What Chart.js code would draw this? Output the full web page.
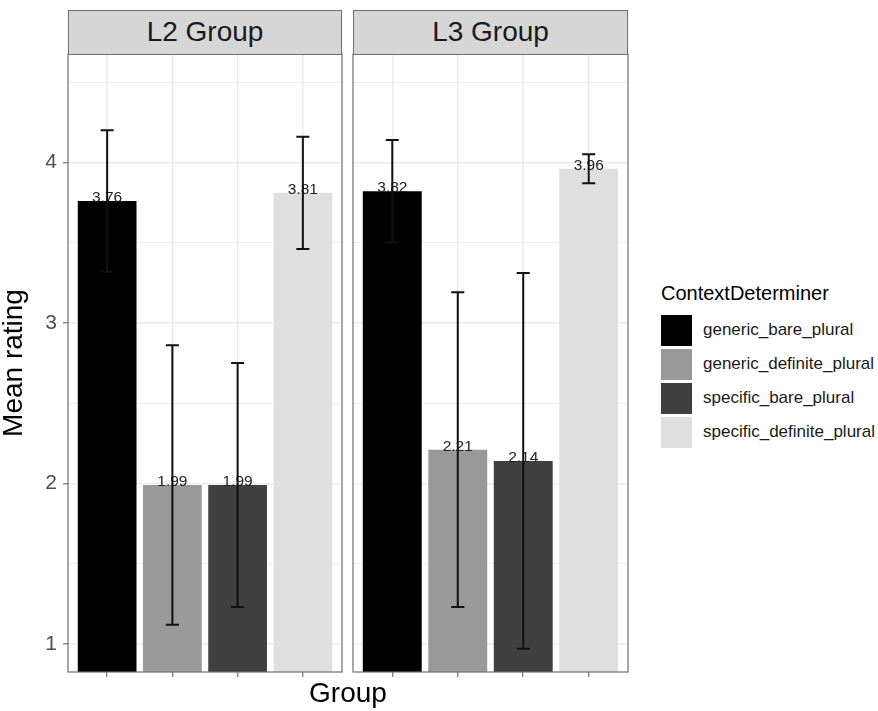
<!DOCTYPE html>
<html>
<head>
<meta charset="utf-8">
<script src="https://cdn.jsdelivr.net/npm/chart.js@4.4.1/dist/chart.umd.min.js"></script>
<style>
  body { margin: 0; background: #fff; }
  #wrap { position: relative; width: 878px; height: 711px; background: #fff; font-family: "Liberation Sans", Arial, Helvetica, sans-serif; }
  canvas { position: absolute; top: 0; }
  .strip { position: absolute; box-sizing: border-box; border: 1px solid #707070; background: #d6d6d6;
           color: #1a1a1a; font-size: 28px; line-height: 42px; text-align: center; }
  .axis-title { position: absolute; color: #000; font-size: 28px; line-height: 28px; text-align: center; white-space: nowrap; }
  #legend { position: absolute; left: 661px; top: 283px; }
  #legend .title { font-size: 20px; line-height: 20px; color: #000; margin-bottom: 10px; }
  #legend .item { display: flex; align-items: center; height: 34px; }
  #legend .key { width: 31px; height: 31px; margin-right: 11px; }
  #legend .label { font-size: 17px; color: #1a1a1a; }
</style>
</head>
<body>
<div id="wrap">
  <canvas id="panelL2" width="348" height="711" style="left:0"></canvas>
  <canvas id="panelL3" width="290" height="711" style="left:348px"></canvas>
  <div id="legend"></div>
</div>
<script>
// facet panels and bar categories
const panels = ['L2 Group', 'L3 Group'];
const determiners = ['generic_bare_plural', 'generic_definite_plural', 'specific_bare_plural', 'specific_definite_plural'];

// mean ratings per panel
const meanL2 = [3.76, 1.99, 1.99, 3.81];
const meanL3 = [3.82, 2.21, 2.14, 3.96];

// half-widths of the error bars
const errL2 = [0.44, 0.87, 0.76, 0.35];
const errL3 = [0.32, 0.98, 1.17, 0.09];

// y axis
const yMajor = [1, 2, 3, 4];
const yMinor = [1.5, 2.5, 3.5, 4.5];
const yLimits = [0.825, 4.675];

const fills = ['#000000', '#999999', '#404040', '#dfdfdf'];
const FONT = '"Liberation Sans", Arial, Helvetica, sans-serif';
const GRID = '#ebebeb';
const LINE = '#707070';

// value labels, error bars and the panel border
const panelExtras = {
  id: 'panelExtras',
  afterDatasetsDraw(chart, args, opts) {
    const { ctx, chartArea: area, scales: { x, y } } = chart;
    const bars = chart.getDatasetMeta(0).data;
    ctx.save();
    ctx.fillStyle = '#222';
    ctx.font = '15.5px ' + FONT;
    ctx.textAlign = 'center';
    ctx.textBaseline = 'alphabetic';
    bars.forEach((bar, i) => {
      ctx.fillText(opts.means[i].toFixed(2), bar.x, bar.y + 1);
    });

    const capHalf = x.getPixelForValue(1.1) - x.getPixelForValue(1);
    ctx.strokeStyle = '#111';
    ctx.lineWidth = 2;
    bars.forEach((bar, i) => {
      const top = y.getPixelForValue(opts.means[i] + opts.errs[i]);
      const bot = y.getPixelForValue(opts.means[i] - opts.errs[i]);
      ctx.beginPath();
      ctx.moveTo(bar.x, top); ctx.lineTo(bar.x, bot);
      ctx.moveTo(bar.x - capHalf, top); ctx.lineTo(bar.x + capHalf, top);
      ctx.moveTo(bar.x - capHalf, bot); ctx.lineTo(bar.x + capHalf, bot);
      ctx.stroke();
    });

    ctx.strokeStyle = LINE;
    ctx.lineWidth = 1.2;
    ctx.strokeRect(area.left, area.top, area.right - area.left, area.bottom - area.top);
    ctx.restore();
  }
};

function makePanel(canvasId, means, errs, showY, padding) {
  const yTicks = yMajor.concat(yMinor).sort((a, b) => a - b);
  return new Chart(document.getElementById(canvasId), {
    type: 'bar',
    data: {
      datasets: [{
        data: means.map((v, i) => ({ x: i + 1, y: v })),
        backgroundColor: fills,
        borderWidth: 0,
        categoryPercentage: 0.9,
        barPercentage: 1
      }]
    },
    options: {
      responsive: false,
      animation: false,
      layout: { padding: padding },
      plugins: {
        legend: { display: false },
        tooltip: { enabled: false },
        panelExtras: { means: means, errs: errs }
      },
      scales: {
        x: {
          type: 'linear',
          min: 0.4,
          max: 4.6,
          offset: false,
          afterBuildTicks: s => { s.ticks = determiners.map((d, i) => ({ value: i + 1 })); },
          afterFit: s => { s.height = 39; },
          ticks: { display: false },
          border: { display: false },
          grid: { offset: false, color: GRID, lineWidth: 1.5, tickColor: LINE, tickLength: 5, tickWidth: 1.2 }
        },
        y: {
          min: yLimits[0],
          max: yLimits[1],
          afterBuildTicks: s => { s.ticks = yTicks.map(v => ({ value: v })); },
          afterFit: s => { s.width = showY ? 68 : 0; },
          border: { display: false },
          ticks: {
            display: showY,
            padding: 6,
            color: '#4d4d4d',
            font: { family: FONT, size: 21 },
            callback: v => yMajor.includes(v) ? String(v) : ''
          },
          grid: {
            color: GRID,
            lineWidth: c => yMajor.includes(c.tick.value) ? 1.5 : 0.8,
            drawTicks: showY,
            tickColor: c => yMajor.includes(c.tick.value) ? LINE : 'rgba(0,0,0,0)',
            tickLength: 5,
            tickWidth: 1.2
          }
        }
      }
    },
    plugins: [panelExtras]
  });
}

const charts = [
  makePanel('panelL2', meanL2, errL2, true, { top: 54, left: 0, right: 6, bottom: 0 }),
  makePanel('panelL3', meanL3, errL3, false, { top: 54, left: 5, right: 10, bottom: 0 })
];

const wrap = document.getElementById('wrap');

// facet strips above each panel
charts.forEach((chart, p) => {
  const offset = chart.canvas.offsetLeft;
  const a = chart.chartArea;
  const strip = document.createElement('div');
  strip.className = 'strip';
  strip.style.left = (offset + a.left) + 'px';
  strip.style.width = (a.right - a.left) + 'px';
  strip.style.top = '10px';
  strip.style.height = (a.top - 10 + 1) + 'px';
  strip.textContent = panels[p];
  wrap.appendChild(strip);
});

// axis titles
const left = charts[0].chartArea.left;
const right = charts[1].canvas.offsetLeft + charts[1].chartArea.right;
const xTitle = document.createElement('div');
xTitle.className = 'axis-title';
xTitle.textContent = 'Group';
xTitle.style.left = ((left + right) / 2 - 100) + 'px';
xTitle.style.width = '200px';
xTitle.style.top = '679px';
wrap.appendChild(xTitle);

const yTitle = document.createElement('div');
yTitle.className = 'axis-title';
yTitle.textContent = 'Mean rating';
const midY = (charts[0].chartArea.top + charts[0].chartArea.bottom) / 2;
yTitle.style.left = (13.3 - 200) + 'px';
yTitle.style.width = '400px';
yTitle.style.height = '28px';
yTitle.style.top = (midY - 14) + 'px';
yTitle.style.transform = 'rotate(-90deg)';
wrap.appendChild(yTitle);

// legend
const legend = document.getElementById('legend');
legend.innerHTML = '<div class="title">ContextDeterminer</div>' +
  determiners.map((d, i) =>
    `<div class="item"><div class="key" style="background:${fills[i]}"></div><div class="label">${d}</div></div>`
  ).join('');
</script>
</body>
</html>
